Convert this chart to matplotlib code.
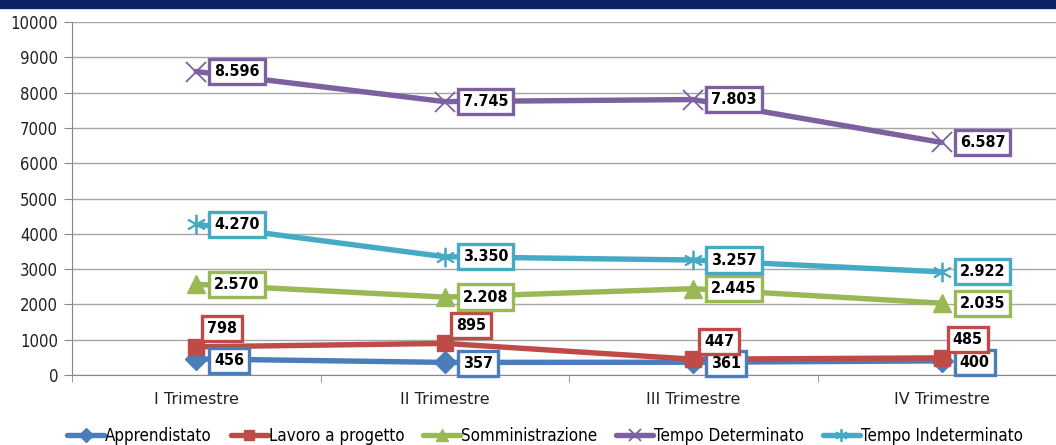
import matplotlib
matplotlib.use("Agg")
import matplotlib.pyplot as plt
from matplotlib.patches import Rectangle
from matplotlib import font_manager

categories = ["I Trimestre", "II Trimestre", "III Trimestre", "IV Trimestre"]
apprendistato = [456, 357, 361, 400]
lavoro_progetto = [798, 895, 447, 485]
somministrazione = [2570, 2208, 2445, 2035]
tempo_determinato = [8596, 7745, 7803, 6587]
tempo_indeterminato = [4270, 3350, 3257, 2922]
series_names = ["Apprendistato", "Lavoro a progetto", "Somministrazione",
                "Tempo Determinato", "Tempo Indeterminato"]
yticks = [0, 1000, 2000, 3000, 4000, 5000, 6000, 7000, 8000, 9000, 10000]

def fmt(v):
    return f"{v:,}".replace(",", ".")

cond = [f for f in font_manager.fontManager.ttflist
        if f.name == "DejaVu Sans" and f.stretch in ("condensed", "semi-condensed")]
narrow_prop = dict(family="DejaVu Sans", stretch="condensed") if cond else dict(family="Liberation Sans")

fig = plt.figure(figsize=(10.56, 4.45), dpi=100)
fig.patches.append(Rectangle((0, 1 - 8/445), 1, 8/445, transform=fig.transFigure,
                             color="#0B2366", zorder=0))
ax = fig.add_axes([72/1056, 70/445, 994/1056, 353/445])

series = [apprendistato, lavoro_progetto, somministrazione, tempo_determinato, tempo_indeterminato]
colors = ["#4A7EBB", "#BE4B48", "#98B954", "#7D60A0", "#46AAC5"]
markers = ["D", "s", "^", "x", "*"]
msizes = [11, 12, 13, 14, 14]
offsets = [(13, -1), (8, 13), (13, 0), (13, 0), (13, 0)]

x = list(range(len(categories)))
for vals, name, c, m, ms, off in zip(series, series_names, colors, markers, msizes, offsets):
    if m == "*":
        ax.plot(x, vals, color=c, lw=3.9, solid_capstyle="round", zorder=3, label=name,
                marker=(6, 2, 0), ms=ms, mew=1.3)
    elif m == "x":
        ax.plot(x, vals, color=c, lw=3.9, solid_capstyle="round", zorder=3, label=name,
                marker="x", ms=ms, mew=1.3)
    else:
        ax.plot(x, vals, color=c, lw=3.9, solid_capstyle="round", zorder=3, label=name,
                marker=m, ms=ms, mec=c, mfc=c)
    for xi, v in zip(x, vals):
        ax.annotate(fmt(v), (xi, v), xytext=off, textcoords="offset points",
                    ha="left", va="center", fontsize=11.5, fontweight="bold",
                    color="black", zorder=5,
                    bbox=dict(boxstyle="square,pad=0.32", fc="white", ec=c, lw=2.4),
                    **narrow_prop)

ax.set_xlim(-0.5, 3.5)
ax.set_ylim(0, 10000)
ax.set_yticks(yticks)
ax.set_yticklabels([str(t) for t in yticks], fontsize=12, color="#222222", **narrow_prop)
ax.set_xticks(x)
ax.set_xticklabels(categories, fontsize=11.5, color="#222222")
ax.set_xticks([-0.5, 0.5, 1.5, 2.5, 3.5], minor=True)
ax.tick_params(axis="x", which="major", length=0, pad=12)
ax.tick_params(axis="x", which="minor", length=5, color="#888888")
ax.tick_params(axis="y", length=6, color="#888888", pad=4)
ax.grid(axis="y", color="#A6A6A6", lw=1)
ax.set_axisbelow(True)
for s in ["top", "right"]:
    ax.spines[s].set_visible(False)
ax.spines["left"].set_color("#888888")
ax.spines["bottom"].set_color("#888888")

handles, labels = ax.get_legend_handles_labels()
leg = fig.legend(handles, labels, loc="center", bbox_to_anchor=(545/1056, 1 - 436/445),
                 ncol=5, frameon=False, handlelength=2.2, handletextpad=0.05,
                 columnspacing=1.1, prop=dict(size=12.2, **narrow_prop), markerscale=0.65)

fig.savefig("out.png", dpi=100)
